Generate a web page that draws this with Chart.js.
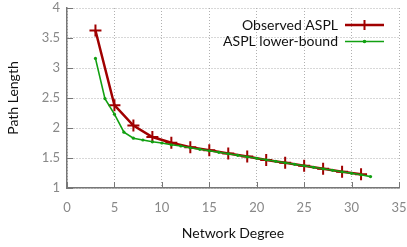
<!DOCTYPE html>
<html><head><meta charset="utf-8">
<script src="https://cdn.jsdelivr.net/npm/chart.js@4/dist/chart.umd.min.js"></script>
<style>html,body{margin:0;padding:0;background:#fff}#wrap{width:407px;height:247px}</style>
</head><body><div id="wrap"><canvas id="c" width="407" height="247"></canvas></div>
<script>
const observedX = [3,5,7,9,11,13,15,17,19,21,23,25,27,29,31];
const observedY = [3.625,2.38,2.04,1.85,1.755,1.68,1.63,1.575,1.525,1.465,1.42,1.37,1.32,1.27,1.23];
const boundX = [3,4,5,6,7,8,9,10,11,12,13,14,15,16,17,18,19,20,21,22,23,24,25,26,27,28,29,30,31,32];
const boundY = [3.16,2.49,2.23,1.93,1.83,1.80,1.77,1.75,1.72,1.70,1.67,1.645,1.62,1.595,1.57,1.545,1.52,1.495,1.47,1.445,1.42,1.395,1.37,1.345,1.32,1.295,1.27,1.245,1.22,1.19];
const seriesLabels = ['Observed ASPL','ASPL lower-bound'];
const xTitle = 'Network Degree';
const yTitle = 'Path Length';
const FONT = 'Lato';
const RED = '#a00000', GREEN = '#11a011';

const pts = (xs, ys) => xs.map((x,i)=>({x, y: ys[i]}));

const inward = {
  id:'inward',
  afterDraw(chart){
    const ctx = chart.ctx, a = chart.chartArea, xs = chart.scales.x, ys = chart.scales.y;
    ctx.save();
    ctx.strokeStyle = '#777'; ctx.lineWidth = 1;
    xs.ticks.forEach(t=>{const p=Math.round(xs.getPixelForValue(t.value))+0.5;
      ctx.beginPath();ctx.moveTo(p,a.bottom);ctx.lineTo(p,a.bottom-6);ctx.stroke();});
    ys.ticks.forEach(t=>{const p=Math.round(ys.getPixelForValue(t.value))+0.5;
      ctx.beginPath();ctx.moveTo(a.left,p);ctx.lineTo(a.left+6,p);ctx.stroke();});
    // legend
    ctx.font = '14px ' + FONT; ctx.textAlign='right'; ctx.textBaseline='middle';
    const rows = [{y:25,c:RED,w:2.5,cross:true},{y:41.5,c:GREEN,w:1.5,cross:false}];
    rows.forEach((r,i)=>{
      ctx.fillStyle='#111';
      ctx.fillText(chart.data.datasets[i].label, 338, r.y);
      ctx.strokeStyle=r.c; ctx.lineWidth=r.w;
      ctx.beginPath();ctx.moveTo(345,r.y);ctx.lineTo(384,r.y);ctx.stroke();
      if(r.cross){ctx.lineWidth=2;ctx.beginPath();ctx.moveTo(364.5,r.y-5);ctx.lineTo(364.5,r.y+5);ctx.moveTo(359.5,r.y);ctx.lineTo(369.5,r.y);ctx.stroke();}
      else{ctx.fillStyle=r.c;ctx.beginPath();ctx.arc(364.5,r.y,1.8,0,Math.PI*2);ctx.fill();}
    });
    ctx.restore();
  }
};

new Chart(document.getElementById('c'), {
  type:'line',
  data:{datasets:[
    {label:seriesLabels[0], data:pts(observedX,observedY), borderColor:RED, backgroundColor:RED, borderWidth:2.5,
     pointStyle:'cross', pointRadius:6, pointBorderWidth:2, tension:0, order:2},
    {label:seriesLabels[1], data:pts(boundX,boundY), borderColor:GREEN, backgroundColor:GREEN, borderWidth:1.6,
     pointStyle:'circle', pointRadius:1.6, pointBorderWidth:0, tension:0, order:1}
  ]},
  options:{
    responsive:false, animation:false, devicePixelRatio:1,
    layout:{padding:{top:7,right:8,left:0,bottom:0}},
    plugins:{legend:{display:false},tooltip:{enabled:false}},
    scales:{
      x:{type:'linear',min:0,max:35,
        ticks:{stepSize:5,color:'#888',font:{family:FONT,size:13},padding:12,maxRotation:0},
        grid:{color:'#b0b0b0',lineWidth:1,drawTicks:false},
        border:{display:true,color:'#777',width:1.5,dash:[1,2]},
        title:{display:true,text:xTitle,color:'#111',font:{family:FONT,size:14},padding:{top:8,bottom:5}},
        afterFit(s){s.height=59;s.paddingLeft=0;s.paddingRight=0;}
      },
      y:{type:'linear',min:1,max:4,
        ticks:{stepSize:0.5,color:'#888',font:{family:FONT,size:13},padding:7,callback:v=>String(v)},
        grid:{color:'#b0b0b0',lineWidth:1,drawTicks:false},
        border:{display:true,color:'#777',width:1.5,dash:[1,2]},
        title:{display:true,text:yTitle,color:'#111',font:{family:FONT,size:14},padding:{top:5,bottom:8}},
        afterFit(s){s.width=67;s.paddingTop=0;s.paddingBottom=0;}
      }
    }
  },
  plugins:[inward]
});
</script></body></html>
